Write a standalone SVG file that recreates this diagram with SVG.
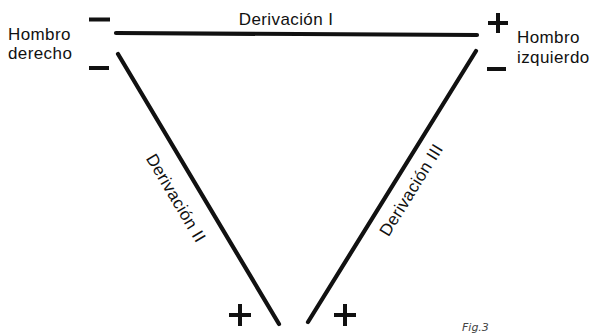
<svg xmlns="http://www.w3.org/2000/svg" width="591" height="336" viewBox="0 0 591 336">
<style>
.lead{stroke:#111;stroke-width:4.2;stroke-linecap:round;fill:none}
.sign{stroke:#111;stroke-width:4;stroke-linecap:butt;fill:none}
.lbl{font-family:"Liberation Sans",Arial,sans-serif;font-size:17px;fill:#111;letter-spacing:0.4px}
.note{font-family:"DejaVu Sans",sans-serif;font-size:11px;fill:#444;font-style:italic}
</style>
<rect width="591" height="336" fill="#fff"/>
<g id="connectors">
<line class="lead" x1="116" y1="33" x2="477" y2="35"/>
<line class="lead" x1="118" y1="54" x2="279" y2="324"/>
<line class="lead" x1="476" y1="51" x2="308" y2="322"/>
</g>
<g id="hombro-derecho">
<text class="lbl" x="8" y="40">Hombro</text>
<text class="lbl" x="8" y="59">derecho</text>
<path class="sign" d="M89 19.5H110M89 68H109"/>
</g>
<g id="hombro-izquierdo">
<text class="lbl" x="517" y="43">Hombro</text>
<text class="lbl" x="517" y="63">izquierdo</text>
<path class="sign" d="M488 23H508M498 13V33M487 69H506"/>
</g>
<g id="vertice-inferior">
<path class="sign" d="M229 315H251M240 304V326M334 315H356M345 304V326"/>
</g>
<g id="derivacion-I">
<text class="lbl" x="286" y="25" text-anchor="middle">Derivación I</text>
</g>
<g id="derivacion-II">
<text class="lbl" text-anchor="middle" transform="translate(171 201) rotate(59.2)">Derivación II</text>
</g>
<g id="derivacion-III">
<text class="lbl" text-anchor="middle" transform="translate(416 193) rotate(-58.2)">Derivación III</text>
</g>
<g id="figura">
<text class="note" x="462" y="331">Fig.3</text>
</g>
</svg>
